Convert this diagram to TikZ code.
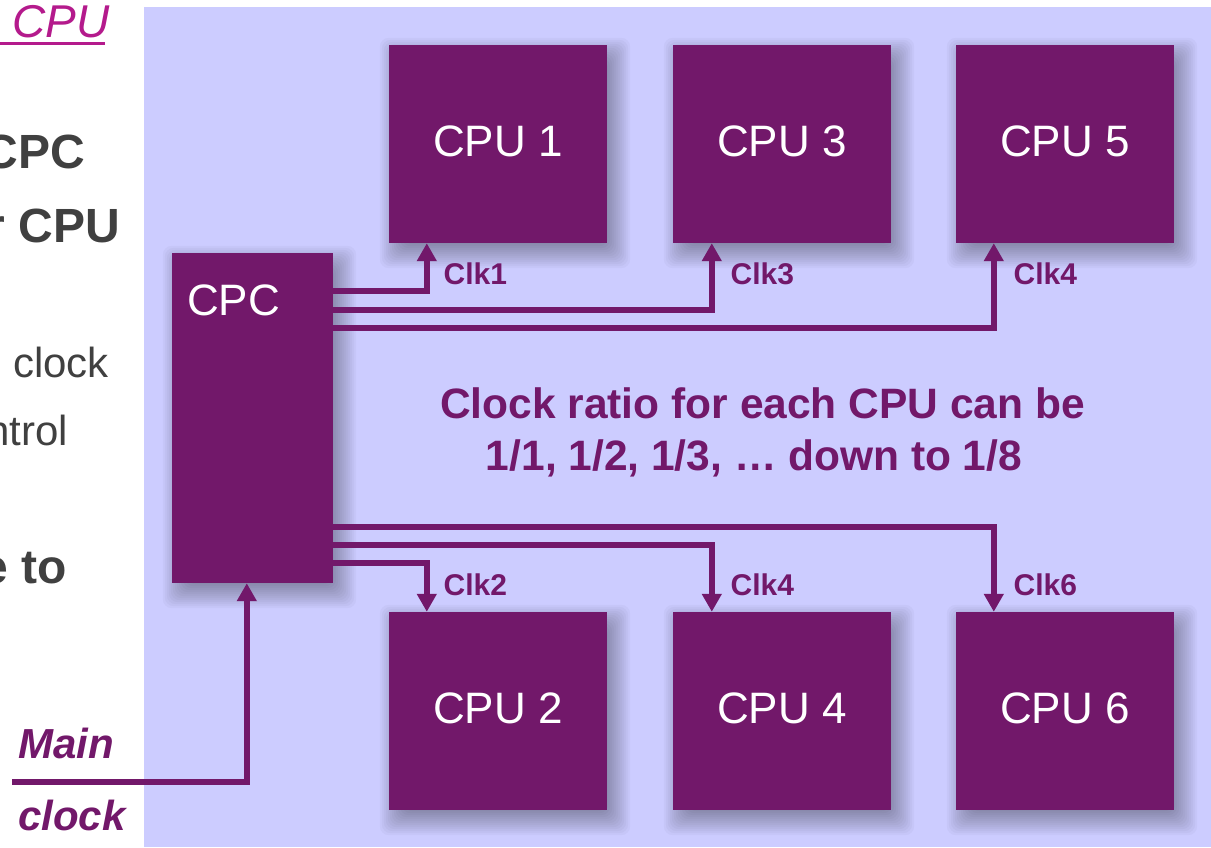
\documentclass[tikz,border=0pt]{standalone}
\usepackage{fontspec}
\setmainfont{Liberation Sans}
\usetikzlibrary{arrows.meta,calc}
\definecolor{plum}{HTML}{72186A}
\definecolor{lav}{HTML}{CCCCFF}
\definecolor{dgray}{HTML}{404040}
\definecolor{mag}{HTML}{B41A8C}
\newcommand\fsz[1]{\fontsize{#1}{#1}\selectfont}
\newcommand\boxshadow[1]{%
  \foreach \e in {16,14,...,-8}{%
    \fill[black, opacity=0.026, rounded corners=9pt]
      ($(#1.north west)+(7-\e,9-\e)$) rectangle ($(#1.south east)+(7+\e,9+\e)$);}}
\pgfdeclarelayer{bglayer}
\pgfdeclarelayer{shadowlayer}
\pgfsetlayers{bglayer,shadowlayer,main}
\begin{document}
\begin{tikzpicture}[x=1pt,y=-1pt,
  box/.style={fill=plum, draw=none, text=white, font=\fsz{44}, text depth=6pt, inner sep=0pt},
  cpubox/.style={box, minimum width=218pt, minimum height=198pt},
  clkline/.style={draw=plum, line width=5.5pt, -{Triangle[width=19pt,length=18pt]}},
  clklabel/.style={anchor=base west, inner sep=0pt, font=\fsz{30}\bfseries, text=plum},
  side/.style={anchor=base east, inner sep=0pt, text=dgray},
  midtext/.style={anchor=base, inner sep=0pt, font=\fsz{42.5}\bfseries, text=plum}
]
\useasboundingbox (0,0) rectangle (1211,847);
\clip (0,0) rectangle (1211,847);
\begin{pgfonlayer}{bglayer}
\fill[white] (0,0) rectangle (1211,847);
\fill[lav] (144,7) rectangle (1211,847);
\end{pgfonlayer}

% left slide text (cut by the edge)
\node[anchor=base east, inner sep=0pt, text=mag, font=\fsz{46}\itshape] (tcpu) at (110,37) {CPU};
\fill[mag] (0,41.5) rectangle (105,44.5);
\node[side, font=\fsz{48}\bfseries] (s1) at (85,168) {CPC};
\node[side, font=\fsz{48}\bfseries] (s2) at (120,242) {r CPU};
\node[side, font=\fsz{42}] (s3) at (109,377) {clock};
\node[side, font=\fsz{42}] (s4) at (68,445) {ntrol};
\node[side, font=\fsz{48}\bfseries] (s5) at (67,583) {e to};

% boxes
\node[box, minimum width=161pt, minimum height=330pt] (cpc) at (252.5,418) {};
\node[anchor=west, inner sep=0pt, text=white, font=\fsz{44}] (cpct) at (187,300) {CPC};
\node[cpubox] (cpu1) at (498,144) {CPU 1};
\node[cpubox] (cpu3) at (782,144) {CPU 3};
\node[cpubox] (cpu5) at (1065,144) {CPU 5};
\node[cpubox] (cpu2) at (498,711) {CPU 2};
\node[cpubox] (cpu4) at (782,711) {CPU 4};
\node[cpubox] (cpu6) at (1065,711) {CPU 6};

\begin{pgfonlayer}{shadowlayer}
\boxshadow{cpc}
\boxshadow{cpu1}\boxshadow{cpu3}\boxshadow{cpu5}
\boxshadow{cpu2}\boxshadow{cpu4}\boxshadow{cpu6}
\end{pgfonlayer}

% clock lines
\draw[clkline] ($(cpc.north east)+(0,38)$) -| ($(cpu1.south west)+(38,0)$);
\draw[clkline] ($(cpc.north east)+(0,57)$) -| ($(cpu3.south west)+(39,0)$);
\draw[clkline] ($(cpc.north east)+(0,75)$) -| ($(cpu5.south west)+(38,0)$);
\draw[clkline] ($(cpc.south east)+(0,-20)$) -| ($(cpu2.north west)+(38,0)$);
\draw[clkline] ($(cpc.south east)+(0,-38)$) -| ($(cpu4.north west)+(39,0)$);
\draw[clkline] ($(cpc.south east)+(0,-56)$) -| ($(cpu6.north west)+(38,0)$);
\coordinate (mc) at (12,782);
\draw[clkline] (mc) -| ($(cpc.south west)+(75,0)$);

% labels
\node[clklabel] (c1) at (443.5,284) {Clk1};
\node[clklabel] (c3) at (730.5,284) {Clk3};
\node[clklabel] (c5) at (1013.5,284) {Clk4};
\node[clklabel] (c2) at (443.5,595) {Clk2};
\node[clklabel] (c4) at (730.5,595) {Clk4};
\node[clklabel] (c6) at (1013.5,595) {Clk6};

\node[midtext] (m1) at (762.5,418) {Clock ratio for each CPU can be};
\node[midtext] (m2) at (754,470) {1/1, 1/2, 1/3, … down to 1/8};

\node[anchor=base west, inner sep=0pt, text=plum, font=\fsz{42}\bfseries\itshape] (main) at (18,758) {Main};
\node[anchor=base west, inner sep=0pt, text=plum, font=\fsz{42}\bfseries\itshape] (clock) at (18,830) {clock};
\end{tikzpicture}
\end{document}
